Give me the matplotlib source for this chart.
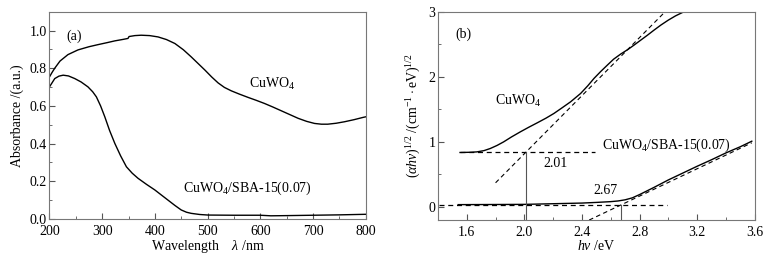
import matplotlib.pyplot as plt
from matplotlib.ticker import MultipleLocator
import numpy as np

plt.rcParams['font.family'] = ['Liberation Serif', 'DejaVu Serif']
plt.rcParams['mathtext.fontset'] = 'custom'
plt.rcParams['mathtext.rm'] = 'Liberation Serif'
plt.rcParams['mathtext.it'] = 'Liberation Serif:italic'

# (a) UV-vis absorbance
wl_cuwo4 = [200, 205, 210, 220, 235, 254, 275, 292, 310, 324, 340, 349, 351, 362, 374, 390, 406,
            422, 438, 454, 469, 482, 495, 508, 520, 532, 545, 560, 577, 592, 608, 624, 640, 656,
            672, 688, 703, 716, 728, 744, 760, 778, 795, 800]
abs_cuwo4 = [0.754, 0.778, 0.80, 0.838, 0.872, 0.897, 0.914, 0.925, 0.936, 0.945, 0.953, 0.958,
             0.968, 0.973, 0.975, 0.973, 0.966, 0.952, 0.931, 0.898, 0.86, 0.825, 0.79, 0.753,
             0.722, 0.698, 0.68, 0.663, 0.645, 0.63, 0.613, 0.594, 0.574, 0.554, 0.534, 0.518,
             0.507, 0.503, 0.503, 0.508, 0.516, 0.527, 0.539, 0.542]
wl_sba = [200, 210, 218, 226, 236, 248, 260, 273, 282, 289, 297, 305, 314, 324, 335, 346, 357,
          368, 384, 400, 412, 425, 438, 450, 460, 469, 485, 501, 550, 600, 620, 650, 700, 750, 800]
abs_sba = [0.701, 0.745, 0.758, 0.763, 0.759, 0.745, 0.727, 0.701, 0.675, 0.648, 0.6, 0.542,
           0.47, 0.401, 0.335, 0.277, 0.243, 0.216, 0.184, 0.154, 0.128, 0.10, 0.072, 0.048,
           0.036, 0.030, 0.024, 0.021, 0.02, 0.02, 0.017, 0.018, 0.02, 0.022, 0.025]

# (b) Tauc plot
hv_cuwo4 = [1.553, 1.62, 1.67, 1.72, 1.763, 1.81, 1.856, 1.91, 1.972, 2.03, 2.089, 2.15, 2.205,
            2.26, 2.321, 2.391, 2.44, 2.484, 2.53, 2.577, 2.62, 2.67, 2.72, 2.763, 2.81, 2.856,
            2.9, 2.949, 3.0, 3.05, 3.11]
tauc_cuwo4 = [0.837, 0.84, 0.846, 0.866, 0.898, 0.945, 1.0, 1.075, 1.154, 1.224, 1.292, 1.364,
              1.436, 1.52, 1.615, 1.744, 1.86, 1.975, 2.08, 2.18, 2.27, 2.35, 2.42, 2.488, 2.565,
              2.64, 2.715, 2.795, 2.87, 2.935, 3.0]
hv_sba = [1.54, 1.8, 2.0, 2.2, 2.4, 2.5, 2.6, 2.65, 2.7, 2.75, 2.8, 2.9, 3.0, 3.1, 3.2, 3.3, 3.4,
          3.5, 3.58]
tauc_sba = [0.036, 0.038, 0.04, 0.05, 0.06, 0.07, 0.082, 0.092, 0.11, 0.14, 0.19, 0.3, 0.415,
            0.52, 0.625, 0.725, 0.83, 0.925, 1.01]

gap_cuwo4, base_cuwo4, slope_cuwo4 = 2.01, 0.84, 2.23
gap_sba, base_sba, slope_sba = 2.67, 0.03, 1.05

fig = plt.figure(figsize=(7.78, 2.59), dpi=100)
ax1 = fig.add_axes([0.0636, 0.1544, 0.4064, 0.8006])
ax2 = fig.add_axes([0.563, 0.1506, 0.407, 0.8044])

for ax in (ax1, ax2):
    for s in ax.spines.values():
        s.set_color('#777777')
        s.set_linewidth(0.8)
    ax.tick_params(which='both', direction='in', top=False, right=False, labelsize=10,
                   color='#555555', pad=2)
    ax.tick_params(axis='x', which='both', pad=4)
    ax.tick_params(which='major', length=4)
    ax.tick_params(which='minor', length=2.5)

ax1.plot(wl_cuwo4, abs_cuwo4, color='black', lw=1)
ax1.plot(wl_sba, abs_sba, color='black', lw=1)
ax1.set_xlim(200, 800)
ax1.set_ylim(0, 1.1)
ax1.xaxis.set_major_locator(MultipleLocator(100))
ax1.xaxis.set_minor_locator(MultipleLocator(50))
ax1.set_yticks([0, 0.2, 0.4, 0.6, 0.8, 1.0])
ax1.yaxis.set_minor_locator(MultipleLocator(0.1))
ax1.set_yticklabels(['0.0', '0.2', '0.4', '0.6', '0.8', '1.0'])
ax1.set_xlabel(r'Wavelength    $\mathit{\lambda}$ /nm', fontsize=10, labelpad=0)
ax1.set_ylabel('Absorbance /(a.u.)', fontsize=10, labelpad=4)
ax1.text(233, 0.97, '(a)', fontsize=10, va='center')
ax1.text(579, 0.716, r'CuWO$_4$', fontsize=10, va='center')
ax1.text(453, 0.164, r'CuWO$_4$/SBA-15(0.07)', fontsize=10, va='center')

ax2.plot(hv_cuwo4, tauc_cuwo4, color='black', lw=1)
ax2.plot(hv_sba, tauc_sba, color='black', lw=1)
# tangents and baselines
x_t1 = np.array([1.8, 2.98])
ax2.plot(x_t1, base_cuwo4 + slope_cuwo4 * (x_t1 - gap_cuwo4), color='black', lw=0.8, ls=(0, (4, 3)))
ax2.plot([1.55, 2.49], [base_cuwo4, base_cuwo4], color='black', lw=0.9, ls=(0, (4, 3)))
ax2.plot([gap_cuwo4, gap_cuwo4], [-0.2, base_cuwo4], color='#555555', lw=0.8)
x_t2 = np.array([2.45, 3.58])
ax2.plot(x_t2, base_sba + slope_sba * (x_t2 - gap_sba), color='black', lw=0.8, ls=(0, (4, 3)))
ax2.plot([1.41, 2.99], [base_sba, base_sba], color='black', lw=0.9, ls=(0, (4, 3)))
ax2.plot([gap_sba, gap_sba], [-0.2, base_sba], color='#555555', lw=0.8)

ax2.set_xlim(1.4, 3.6)
ax2.set_ylim(-0.2, 3)
ax2.set_xticks([1.6, 2.0, 2.4, 2.8, 3.2, 3.6])
ax2.xaxis.set_minor_locator(MultipleLocator(0.2))
ax2.set_yticks([0, 1, 2, 3])
ax2.yaxis.set_minor_locator(MultipleLocator(0.5))
ax2.set_xlabel(r'$\mathit{h\nu}$ /eV', fontsize=10, labelpad=0)
ax2.set_ylabel(r'$(\mathit{\alpha h\nu})^{1/2}$ /(cm$^{-1}\cdot$eV)$^{1/2}$', fontsize=10, labelpad=4)
ax2.text(1.52, 2.66, '(b)', fontsize=10, va='center')
ax2.text(1.956, 1.63, r'CuWO$_4$', fontsize=10, va='center', ha='center')
ax2.text(2.216, 0.67, '2.01', fontsize=10, va='center', ha='center')
ax2.text(2.56, 0.25, '2.67', fontsize=10, va='center', ha='center')
ax2.text(2.99, 0.94, r'CuWO$_4$/SBA-15(0.07)', fontsize=10, va='center', ha='center')

fig.savefig('out.png', dpi=100)
